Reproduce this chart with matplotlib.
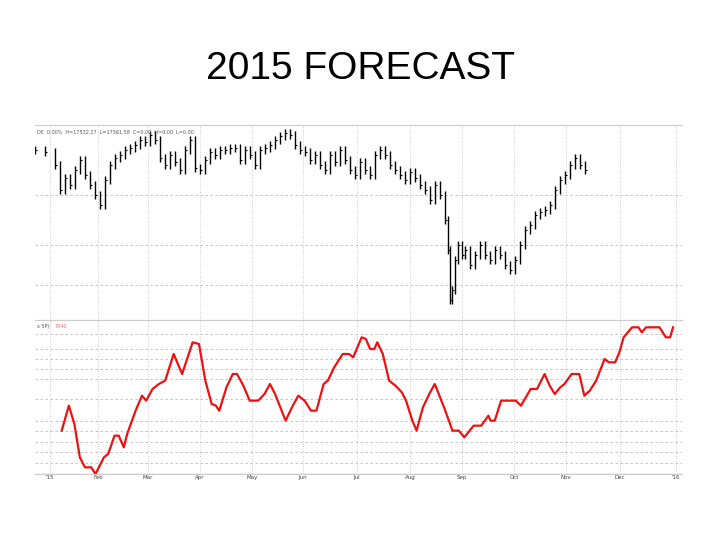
import matplotlib
matplotlib.use("Agg")
import matplotlib.pyplot as plt
import numpy as np

# price bars: position (chart x units) and close height (arbitrary price units)
px = [35,45,55,60,65,70,75,80,85,90,95,100,105,110,115,120,125,130,135,140,145,150,155,160,165,170,175,180,185,190,195,200,205,210,215,220,225,230,235,240,245,250,255,260,265,270,275,280,285,290,295,300,305,310,315,320,325,330,335,340,345,350,355,360,365,370,375,380,385,390,395,400,405,410,415,420,425,430,435,440,445,448,450,452,455,458,462,465,470,475,480,485,490,495,500,505,510,515,520,525,530,535,540,545,550,555,560,565,570,575,580,585]
py = [150,152,165,190,178,185,170,160,175,185,195,205,180,165,158,155,150,148,145,140,142,135,140,158,165,155,162,170,150,140,168,170,160,152,155,150,150,148,148,160,150,155,165,150,148,145,140,136,133,135,145,150,152,160,155,165,170,155,162,150,160,170,175,162,170,175,155,150,155,165,170,175,180,172,178,185,190,200,185,195,220,250,300,290,260,245,255,250,265,255,245,255,260,250,255,265,270,260,245,230,225,215,212,210,205,190,180,175,165,158,165,170]
close = [320 - v for v in py]

# oscillator trace
oz = [75,92,105,118,130,145,155,175,185,200,210,222,230,250,265,275,290,305,320,340,360,385,400,415,430,440,448,465,480,490,505,520,540,555,568,580,605,620,635,650,665,678,695,705,720,740,755,765,785,795,805,815,822,835,850,865,880,890,905,915,930,945,958,980,1000,1015,1028,1050,1068,1085,1090,1100,1115,1150,1162,1185,1200,1218,1230,1242,1255,1265,1282,1300,1312,1325,1340,1360,1370,1385,1395,1405,1425,1440,1448,1458,1490,1505,1515,1522]
oy = [390,315,370,470,500,500,520,470,460,405,405,440,400,330,285,300,265,250,240,160,220,125,130,240,310,315,330,260,220,220,255,300,300,280,250,280,360,320,285,300,330,330,250,240,200,160,160,170,110,115,145,145,125,160,240,255,275,300,360,390,320,280,250,320,390,390,410,375,375,345,360,360,300,300,315,265,265,220,255,280,260,250,220,220,285,270,240,175,185,185,155,110,80,80,95,80,80,110,110,80]
ox = [30 + z * 0.4225 for z in oz]
osc = [520 - v for v in oy]

month_pos = [50, 98, 148, 200, 252, 303, 357, 410, 462, 514, 566, 620, 676]
month_lab = ["'15", "Feb", "Mar", "Apr", "May", "Jun", "Jul", "Aug", "Sep", "Oct", "Nov", "Dec", "'16"]

fig = plt.figure(figsize=(7.2, 5.4), dpi=100)
fig.text(0.5, 0.872, "2015 FORECAST", ha="center", va="center", fontsize=28, family="Liberation Sans")

ax1 = fig.add_axes([35/720, 1-320/540, 647/720, 195/540])
ax2 = fig.add_axes([35/720, 1-474/540, 647/720, 154/540])
for ax in (ax1, ax2):
    ax.set_xlim(35, 682)
    for s in ax.spines.values():
        s.set_color("#cccccc"); s.set_linewidth(0.8)
    ax.spines["right"].set_visible(False)
    ax.spines["left"].set_visible(False)
    for m in month_pos:
        ax.axvline(m, color="#bbbbbb", lw=0.6, ls=(0, (1, 2)), zorder=0)
    ax.tick_params(left=False, labelleft=False, bottom=False)

ax1.set_ylim(0, 195)
ax1.set_xticks([])
for g in [125, 75, 35]:
    ax1.axhline(g, color="#bbbbbb", lw=0.6, ls=(0, (3, 3)), zorder=0)
for i in range(len(px)):
    prev = close[i-1] if i > 0 else close[i]
    hi = max(prev, close[i]) + 4
    lo = min(prev, close[i]) - 4
    ax1.vlines(px[i], lo, hi, color="black", lw=1.0)
    ax1.hlines(close[i], px[i], px[i] + 2, color="black", lw=0.8)
ax1.text(37, 190, "DE  0.00%  H=17532.27  L=17561.58  C=0.00  H=0.00  L=0.00", fontsize=3.5, color="#555555", va="top")

ax2.set_ylim(0, 154*3)
for g in [140, 125, 115, 105, 95, 75, 53, 43, 32, 22, 11]:
    ax2.axhline(g*3, color="#bbbbbb", lw=0.6, ls=(0, (3, 3)), zorder=0)
ax2.axhline(1, color="#ffaaaa", lw=1)
ax2.plot(ox, osc, color="#ee1111", lw=1.6)
ax2.text(37, 450, "x 5P)", fontsize=3.5, color="#555555", va="top")
ax2.text(55, 450, "7040", fontsize=3.5, color="#ff6666", va="top")
ax2.set_xticks(month_pos)
ax2.set_xticklabels(month_lab, fontsize=4, color="#444444")
ax2.tick_params(axis="x", pad=1, length=0)

fig.savefig("out.png", dpi=100)
